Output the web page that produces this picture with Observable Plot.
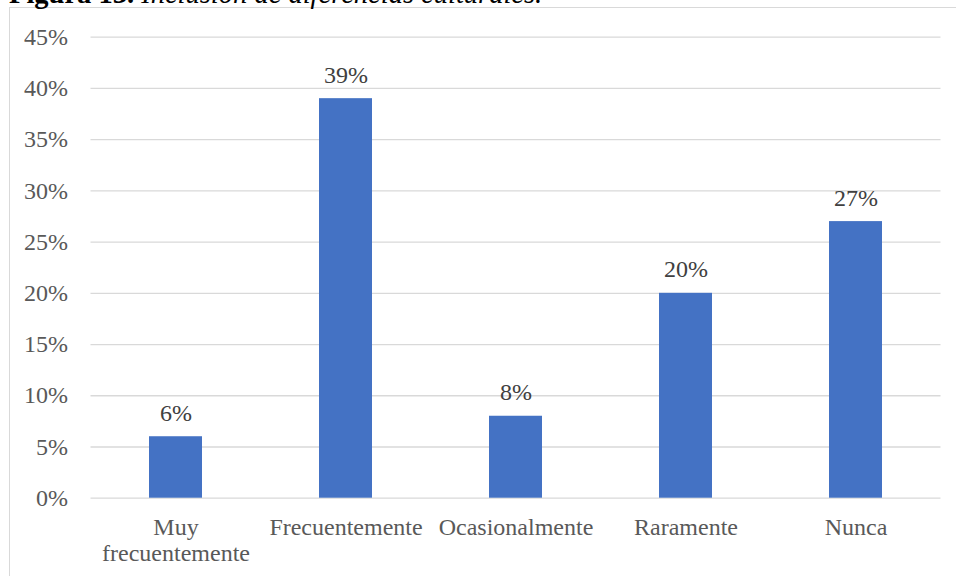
<!DOCTYPE html>
<html>
<head>
<meta charset="utf-8">
<script src="https://cdn.jsdelivr.net/npm/d3@7"></script>
<script src="https://cdn.jsdelivr.net/npm/@observablehq/plot@0.6"></script>
<style>
  html, body { margin: 0; padding: 0; background: #fff; overflow: hidden; }
  #page { position: relative; width: 956px; height: 576px; overflow: hidden; }
  #frame {
    position: absolute; left: 9px; top: 7px; width: 1200px; height: 800px;
    border: 1px solid #d9d9d9; box-sizing: border-box;
  }
  #title {
    position: absolute; left: 9px; top: -20px; margin: 0;
    font-family: "Liberation Serif", "Times New Roman", serif;
    font-size: 28.5px; line-height: 1; color: #000; white-space: nowrap;
  }
  #title b { font-weight: bold; }
  #title i { font-style: italic; }
  #chart { position: absolute; left: 0; top: 0; }
</style>
</head>
<body>
<div id="page">
  <div id="frame"></div>
  <p id="title"><b>Figura 13.</b> <i>Inclusión de diferencias culturales.</i></p>
  <div id="chart"></div>
</div>
<script>
// Survey answers: how often cultural differences are included
const categories = ["Muy frecuentemente", "Frecuentemente", "Ocasionalmente", "Raramente", "Nunca"];
const tickLabels = ["Muy\nfrecuentemente", "Frecuentemente", "Ocasionalmente", "Raramente", "Nunca"];
const percentages = [6, 39, 8, 20, 27];
const yTicks = [0, 5, 10, 15, 20, 25, 30, 35, 40, 45];

const rows = categories.map((c, i) => ({category: c, value: percentages[i]}));
const labelOf = new Map(categories.map((c, i) => [c, tickLabels[i]]));

const font = "'Liberation Serif', 'Times New Roman', serif";
const size = 24;

const chart = Plot.plot({
  width: 956,
  height: 576,
  marginTop: 36.7,
  marginBottom: 78.3,
  marginLeft: 90.5,
  marginRight: 15.5,
  style: {fontFamily: font, fontSize: `${size}px`, background: "transparent"},
  x: {domain: categories, paddingInner: 0.688, paddingOuter: 0.344, label: null},
  y: {domain: [0, 45], label: null},
  marks: [
    Plot.ruleY(yTicks, {stroke: "#d9d9d9", strokeWidth: 1.3}),
    Plot.barY(rows, {x: "category", y: "value", fill: "#4472c4"}),
    Plot.text(rows, {
      x: "category", y: "value", text: d => `${d.value}%`,
      lineAnchor: "bottom", dy: -16, fill: "#404040", fontSize: size
    }),
    Plot.axisY({
      ticks: yTicks, tickSize: 0, tickPadding: 23,
      tickFormat: d => `${d}%`, fill: "#595959", fontSize: size, label: null
    }),
    Plot.axisX({
      tickSize: 0, tickPadding: 18, lineHeight: 1.1,
      tickFormat: d => labelOf.get(d), fill: "#595959", fontSize: size, label: null
    })
  ]
});

document.getElementById("chart").appendChild(chart);
</script>
</body>
</html>
